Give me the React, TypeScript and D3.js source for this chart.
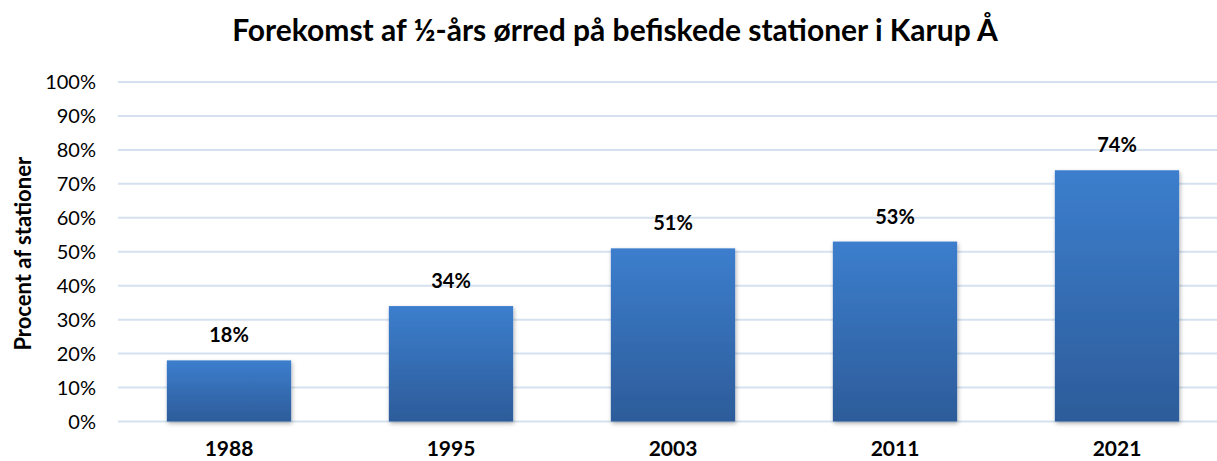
import * as d3 from 'd3';

const years = ['1988', '1995', '2003', '2011', '2021'];
const shares = [18, 34, 51, 53, 74];
const yTicks = [0, 10, 20, 30, 40, 50, 60, 70, 80, 90, 100];

const W = 1217;
const H = 461;
const FONT = 'Lato, "Open Sans", sans-serif';

export default function App() {
  const x = d3.scaleBand<string>().domain(years).range([118, 1228]).paddingInner(0.44).paddingOuter(0.22);
  const y = d3.scaleLinear().domain([0, 100]).range([421.5, 82]);

  return (
    <svg width={W} height={H} style={{ position: 'absolute', left: 0, top: 0, background: '#fff' }}>
      <defs>
        <linearGradient id="barFill" x1="0" y1="0" x2="0" y2="1">
          <stop offset="0%" stopColor="#3C7ECD" />
          <stop offset="100%" stopColor="#2D5C9A" />
        </linearGradient>
        <filter id="shadow" x="-10%" y="-10%" width="120%" height="120%">
          <feDropShadow dx="1" dy="2" stdDeviation="2" floodColor="#000" floodOpacity="0.3" />
        </filter>
      </defs>

      <text x={615} y={41} textAnchor="middle" fontFamily={FONT} fontWeight="bold" fontSize={30}>
        Forekomst af ½-års ørred på befiskede stationer i Karup Å
      </text>

      {yTicks.map(t => (
        <g key={t}>
          <line x1={118} x2={W} y1={y(t)} y2={y(t)} stroke="#D5E1EF" strokeWidth={2} />
          <text x={96} y={y(t) + 7} textAnchor="end" fontFamily={FONT} fontSize={20} fill="#000">
            {t}%
          </text>
        </g>
      ))}

      <text
        transform={`translate(31, ${y(50) + 2}) rotate(-90)`}
        textAnchor="middle"
        fontFamily={FONT}
        fontWeight="bold"
        fontSize={22}
      >
        Procent af stationer
      </text>

      {years.map((yr, i) => {
        const bx = x(yr) ?? 0;
        const top = y(shares[i]);
        return (
          <g key={yr}>
            <rect
              x={bx}
              y={top}
              width={x.bandwidth()}
              height={y(0) - top}
              fill="url(#barFill)"
              filter="url(#shadow)"
            />
            <text
              x={bx + x.bandwidth() / 2}
              y={top - 18}
              textAnchor="middle"
              fontFamily={FONT}
              fontWeight="bold"
              fontSize={20}
            >
              {shares[i]}%
            </text>
            <text
              x={bx + x.bandwidth() / 2}
              y={456}
              textAnchor="middle"
              fontFamily={FONT}
              fontWeight="bold"
              fontSize={21}
            >
              {yr}
            </text>
          </g>
        );
      })}
    </svg>
  );
}
